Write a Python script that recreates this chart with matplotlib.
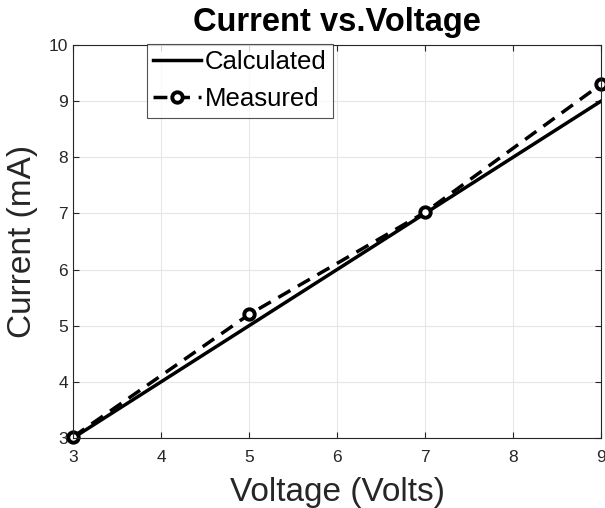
import matplotlib
matplotlib.use("Agg")
import matplotlib.pyplot as plt

plt.rcParams['font.family'] = ['Liberation Sans', 'DejaVu Sans']

voltage = [3, 5, 7, 9]
calculated = [3, 5, 7, 9]
measured = [3.02, 5.2, 7.02, 9.3]

fig = plt.figure(figsize=(6.05, 5.08), dpi=100)
ax = fig.add_axes([0.1207, 0.1378, 0.8727, 0.7736])

ax.plot(voltage, calculated, '-', color='black', linewidth=2.5, label='Calculated')
ax.plot(voltage, measured, '--', color='black', linewidth=2.5, marker='o',
        markersize=7.5, markerfacecolor='white', markeredgewidth=2.8,
        dashes=(4, 2.5), label='Measured', clip_on=False)

ax.set_xlim(3, 9)
ax.set_ylim(3, 10)
ax.set_xticks(range(3, 10))
ax.set_yticks(range(3, 11))
ax.grid(True, color='#e6e6e6', linewidth=0.8)
ax.set_axisbelow(True)
for s in ax.spines.values():
    s.set_color('#262626')
    s.set_linewidth(0.8)
ax.tick_params(direction='in', top=True, right=True, labelsize=12.5,
               colors='#262626', length=4, width=0.8)
ax.tick_params(axis='x', pad=9)

ax.set_xlabel('Voltage (Volts)', fontsize=24, color='#262626', labelpad=8)
ax.set_ylabel('Current (mA)', fontsize=24, color='#262626', labelpad=8)
ax.set_title('Current vs.Voltage', fontsize=23.5, fontweight='bold', pad=10)

leg = ax.legend(loc='upper left', bbox_to_anchor=(0.14, 1.003), fontsize=18.5,
                frameon=True, fancybox=False, edgecolor='#262626',
                handlelength=1.85, handletextpad=0.15, borderpad=0.25,
                labelspacing=0.5, borderaxespad=0)
leg.get_frame().set_linewidth(0.8)

fig.savefig('out.png', dpi=100)
